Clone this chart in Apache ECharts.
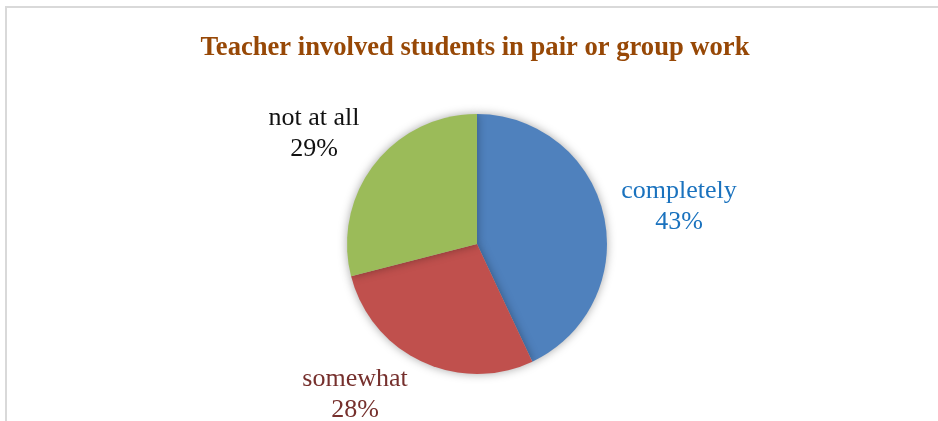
<!DOCTYPE html>
<html>
<head>
<meta charset="utf-8">
<title>Teacher involved students in pair or group work</title>
<script src="https://cdn.jsdelivr.net/npm/echarts@6/dist/echarts.min.js"></script>
<style>
  html, body { margin: 0; padding: 0; background: #ffffff; }
  #chart { width: 938px; height: 421px; }
</style>
</head>
<body>
<div id="chart"></div>
<script>
// Survey responses
const categories = ['completely', 'somewhat', 'not at all'];
const shares = [43, 28, 29];

// Appearance
const sliceColors = ['#4F81BD', '#C0504D', '#9BBB59'];
const labelColors = ['#1A72BE', '#76302D', '#111111'];
// Label centres, relative to the pie centre (px)
const labelOffsets = [[202, -37], [-122, 151], [-163, -110]];

const pieCenter = [477, 244];
const pieRadius = 130;
const serif = '"Liberation Serif", "Times New Roman", serif';

const chart = echarts.init(document.getElementById('chart'), null, { renderer: 'canvas' });

chart.setOption({
  animation: false,
  backgroundColor: '#ffffff',
  title: {
    text: 'Teacher involved students in pair or group work',
    left: 470,
    top: 30,
    textAlign: 'center',
    textStyle: {
      fontFamily: serif,
      fontWeight: 'bold',
      fontSize: 26.6,
      color: '#974806'
    }
  },
  graphic: [{
    type: 'rect',
    silent: true,
    shape: { x: 6, y: 7, width: 1000, height: 1000 },
    style: { fill: 'none', stroke: '#d9d9d9', lineWidth: 2 }
  }],
  series: [{
    type: 'pie',
    center: pieCenter,
    radius: pieRadius,
    startAngle: 90,
    clockwise: true,
    label: {
      show: true,
      position: 'outside',
      formatter: '{b}\n{d}%',
      fontFamily: serif,
      fontSize: 26,
      lineHeight: 31,
      align: 'center'
    },
    labelLine: { show: false },
    labelLayout: function (params) {
      const off = labelOffsets[params.dataIndex];
      return {
        x: pieCenter[0] + off[0],
        y: pieCenter[1] + off[1],
        align: 'center',
        verticalAlign: 'middle'
      };
    },
    itemStyle: {
      borderWidth: 0,
      shadowBlur: 10,
      shadowColor: 'rgba(0,0,0,0.35)'
    },
    emphasis: { disabled: true },
    data: categories.map((name, i) => ({
      name: name,
      value: shares[i],
      itemStyle: { color: sliceColors[i] },
      label: { color: labelColors[i] }
    }))
  }]
});
</script>
</body>
</html>
